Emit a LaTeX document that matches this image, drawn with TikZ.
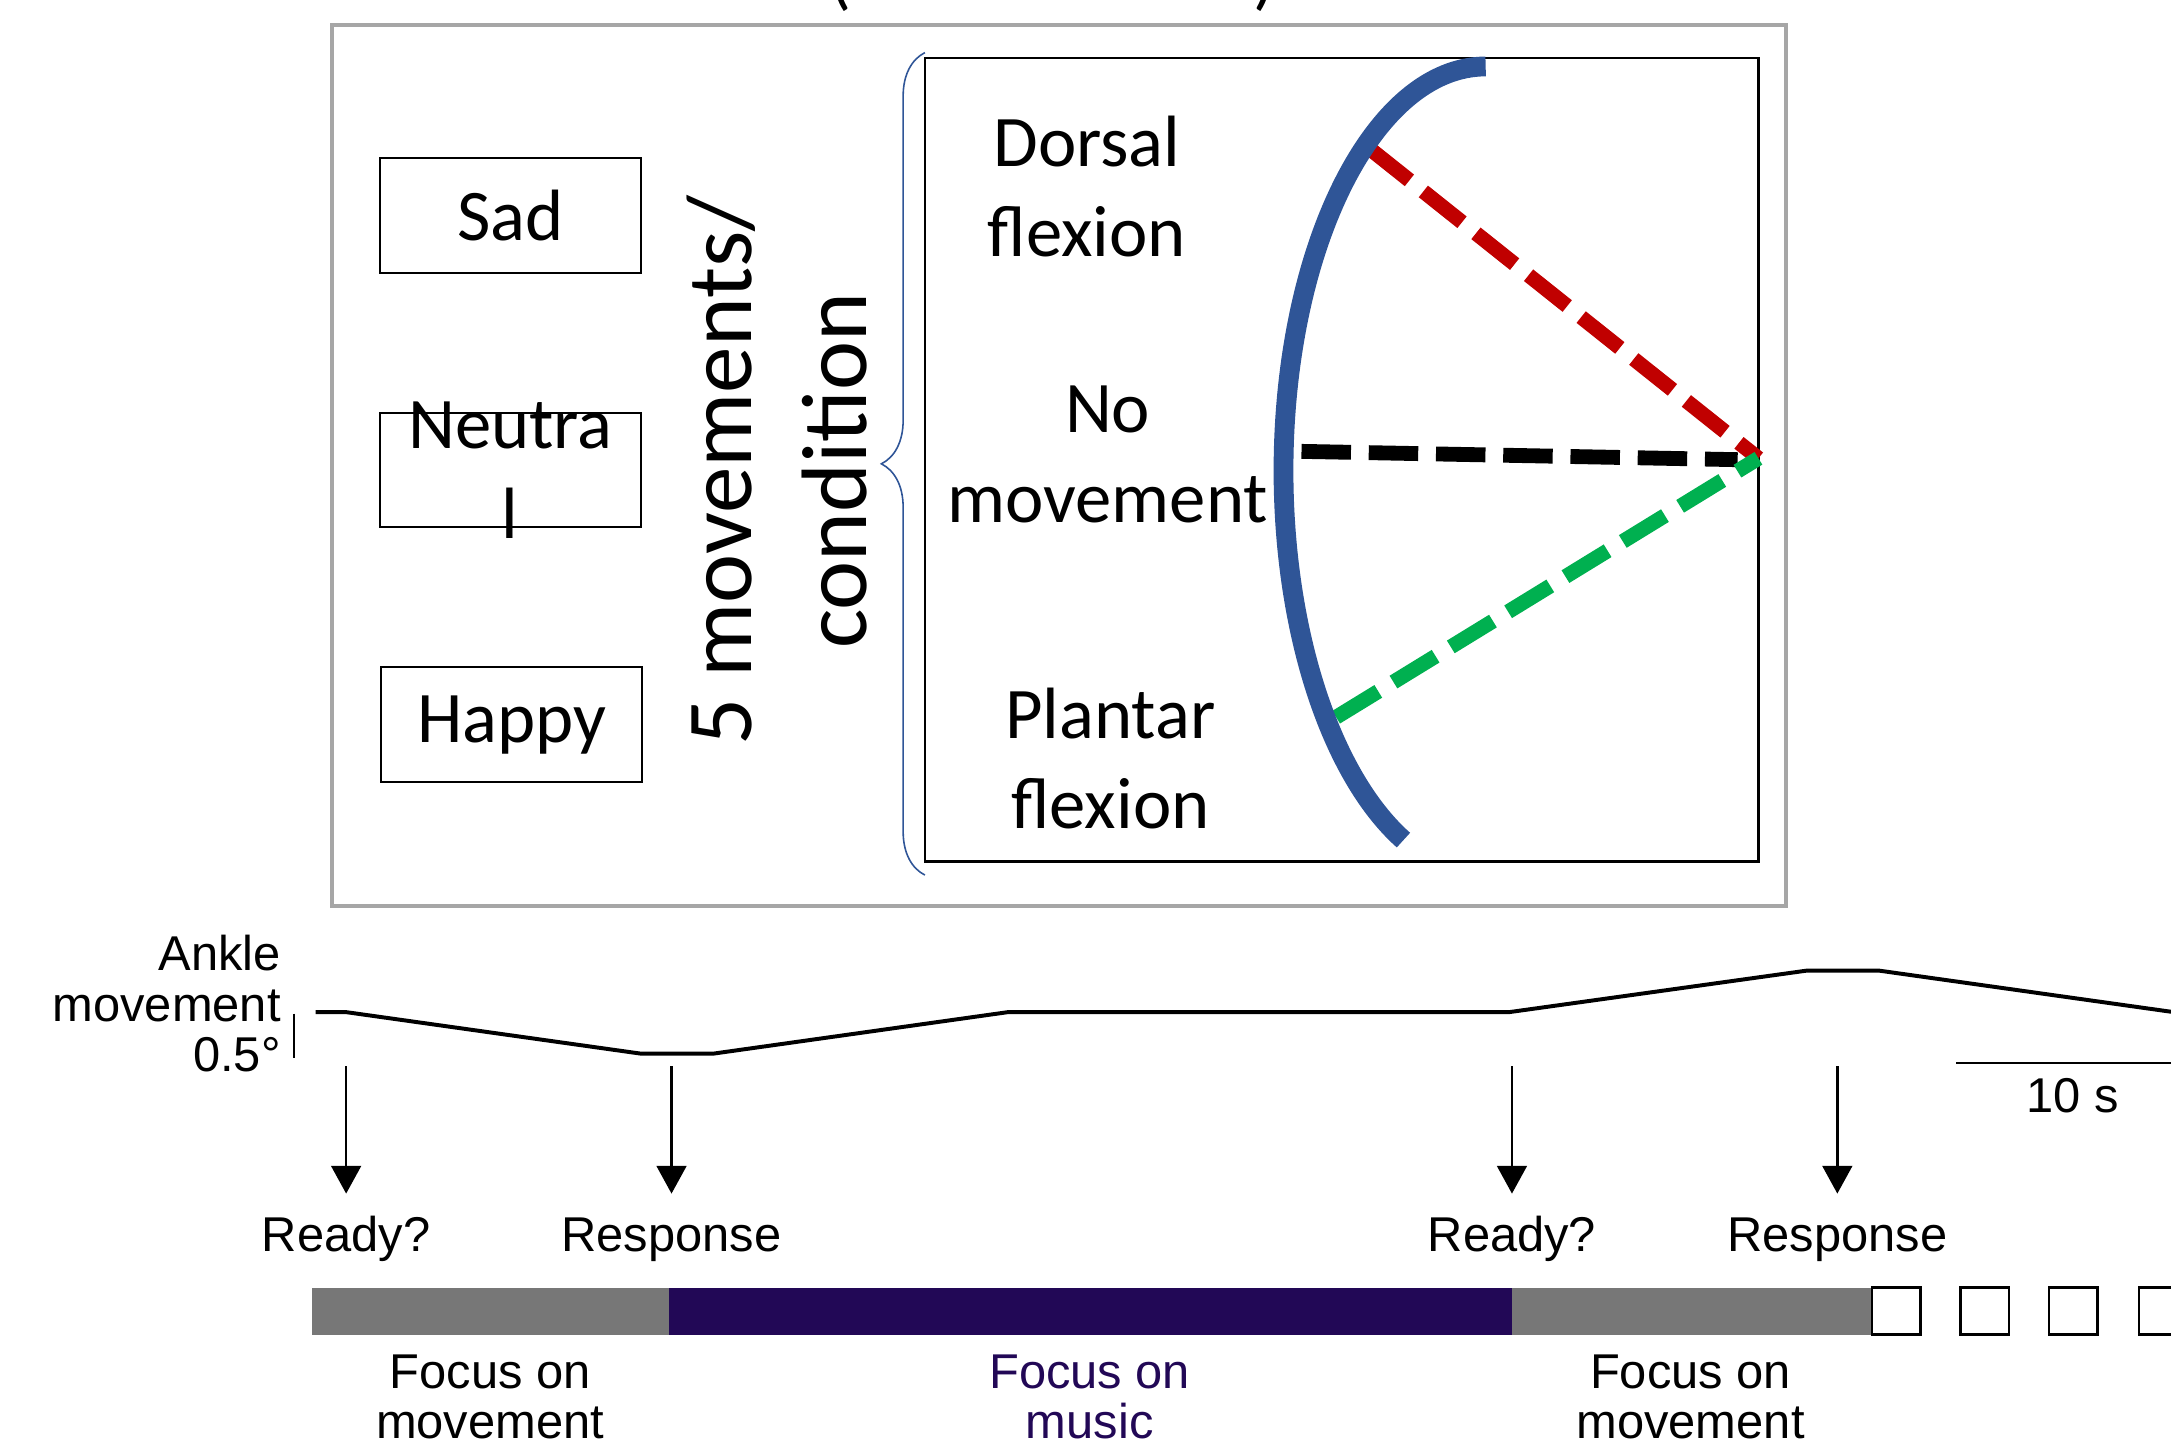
\documentclass[tikz,border=0pt]{standalone}
\usepackage{fontspec}
\setmainfont{Carlito}
\newfontfamily\plotfont{Liberation Sans}
\usetikzlibrary{arrows.meta}
\usetikzlibrary{decorations.pathreplacing}

\definecolor{armblue}{RGB}{47,85,151}
\definecolor{dorsalred}{RGB}{192,0,0}
\definecolor{plantargreen}{RGB}{0,176,80}
\definecolor{framegray}{RGB}{166,166,166}
\definecolor{movegray}{RGB}{119,119,119}
\definecolor{musicpurple}{RGB}{34,8,86}

\begin{document}
\begin{tikzpicture}[x=0.7pt, y=-0.7pt,
  condbox/.style={draw, line width=1pt, minimum width=132pt, minimum height=58pt, inner sep=0pt},
  biglabel/.style={font=\fontsize{36.75}{45.5}\selectfont, align=center, inner sep=0pt},
  sidelabel/.style={font=\fontsize{47}{58}\selectfont, align=center, inner sep=0pt, rotate=90},
  movedash/.style={line width=7.5pt, dash pattern=on 25pt off 9pt},
  plotlabel/.style={font=\plotfont\fontsize{24.7}{25.5}\selectfont, align=center, inner sep=0pt},
  cuelabel/.style={plotlabel, text height=18pt, text depth=5pt, inner ysep=11pt},
  cue/.style={line width=1.3pt, -{Triangle[width=15pt,length=14pt]}},
  blank/.style={draw, line width=1.3pt, fill=white}]

  \useasboundingbox (0,0) rectangle (1568,1043);

  % heading, cut off by the page
  \node[biglabel, anchor=base] (lparen) at (607,1) {(};
  \node[biglabel, anchor=base] (rparen) at (913,1) {)};

  % frames
  \draw[framegray, line width=2pt] (240,18) rectangle (1290,654);
  \draw[line width=1.3pt] (668,42) rectangle (1270,622);
  \draw[armblue, line width=0.8pt, decorate, decoration={brace, amplitude=22pt}] (668,632) -- (668,38);

  % emotion conditions
  \node[condbox] (sad) at (368.5,155.5) {};
  \node[condbox] (neutral) at (368.5,339.5) {};
  \node[condbox] (happy) at (369.5,523.5) {};
  \node[biglabel] (sadtext) at (sad) {Sad};
  \node[biglabel] (neutraltext) at (neutral) {Neutra\\l};
  \node[biglabel] (happytext) at (happy) {Happy};
  \node[sidelabel] (repeats) at (561,340) {5 movements/\\condition};

  % ankle positions
  \coordinate (pivot) at (1270,331);
  \coordinate (restpivot) at (1255,332);
  \coordinate (dorsalend) at (990,108);
  \coordinate (restend) at (940,326);
  \coordinate (plantarend) at (965,518);
  \draw[movedash] (restend) -- (restpivot);
  \draw[movedash, dorsalred] (dorsalend) -- (pivot);
  \draw[movedash, plantargreen] (plantarend) -- (pivot);
  \draw[armblue, line width=10pt] (1073,48) arc[start angle=270, end angle=114, x radius=146, y radius=292];

  \node[biglabel] (dorsal) at (785,135) {Dorsal\\flexion};
  \node[biglabel] (rest) at (800,328) {No\\movement};
  \node[biglabel] (plantar) at (802,548) {Plantar\\flexion};

  % ankle trace
  \node[plotlabel, anchor=east, align=right] (ankle) at (203,725) {Ankle\\movement\\0.5°};
  \draw[line width=1pt] (212,732) -- (212,764);
  \draw[line width=2pt, line join=round] (228,731) -- (250,731) -- (463,761) -- (515,761)
    -- (728,731) -- (1090,731) -- (1305,701) -- (1357,701) -- (1570,731);

  % cues
  \foreach \x/\name/\txt in {250/readyA/Ready?, 485/respA/Response, 1092/readyB/Ready?, 1327/respB/Response} {
    \coordinate (\name top) at (\x,770);
    \node[cuelabel] (\name) at (\x,894.5) {\txt};
    \draw[cue] (\name top) -- (\name.north);
  }

  % time scale
  \coordinate (tenleft) at (1413,768);
  \coordinate (tenright) at (1580,768);
  \draw[line width=1pt] (tenleft) -- (tenright);
  \node[plotlabel] (tensec) at (1497,791) {10 s};

  % trial bar
  \fill[movegray] (225,930) rectangle (483,964);
  \fill[musicpurple] (483,930) rectangle (1092,964);
  \fill[movegray] (1092,930) rectangle (1352,964);
  \foreach \x in {1352,1416,1480,1545}
    \draw[blank] (\x,930) rectangle ++(35,34);

  \node[plotlabel] (focusA) at (354,1009) {Focus on\\movement};
  \node[plotlabel, musicpurple] (focusB) at (787,1009) {Focus on\\music};
  \node[plotlabel] (focusC) at (1221,1009) {Focus on\\movement};
\end{tikzpicture}
\end{document}
